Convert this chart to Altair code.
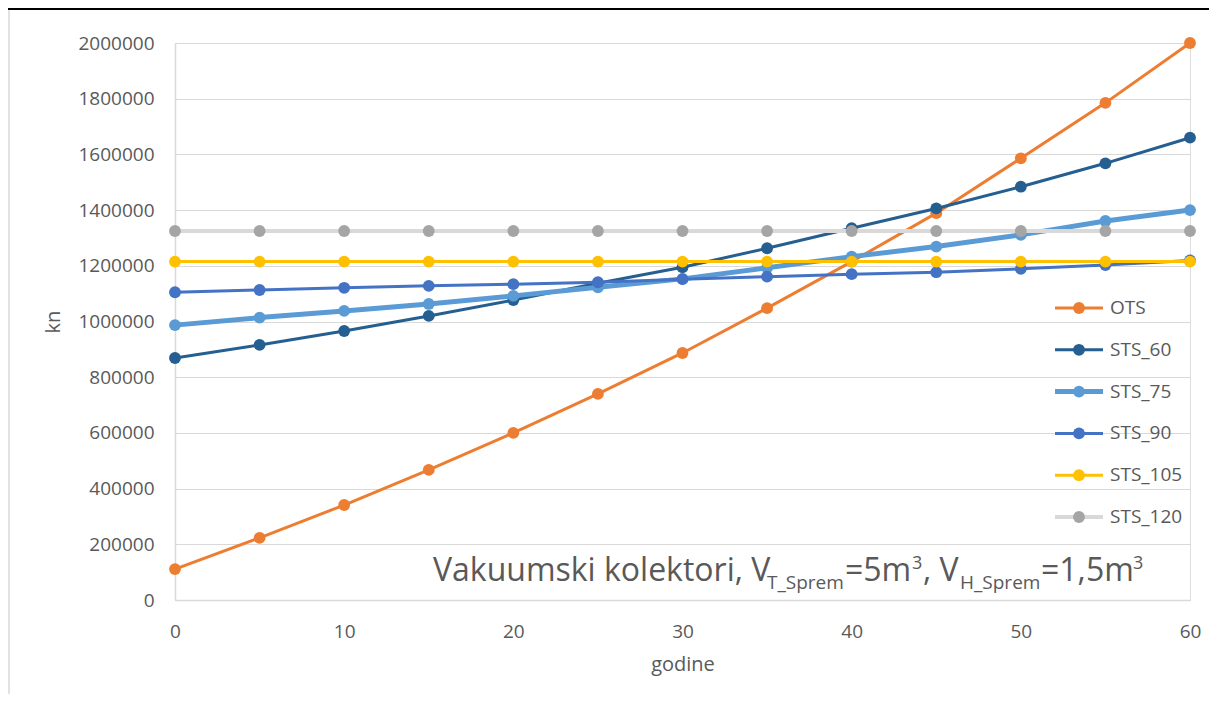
import altair as alt
import pandas as pd

# ---------------- data ----------------
years = [0, 5, 10, 15, 20, 25, 30, 35, 40, 45, 50, 55, 60]
series_names = ["OTS", "STS_60", "STS_75", "STS_90", "STS_105", "STS_120"]

ots     = [111000, 223000, 341000, 467000, 600000, 740000, 887000, 1048000, 1215000, 1389000, 1586000, 1785000, 2000000]
sts_60  = [869000, 916000, 966000, 1020000, 1077000, 1137000, 1195000, 1263000, 1335000, 1406000, 1484000, 1568000, 1660000]
sts_75  = [987000, 1014000, 1038000, 1063000, 1092000, 1123000, 1153000, 1193000, 1233000, 1269000, 1311000, 1361000, 1400000]
sts_90  = [1105000, 1113000, 1121000, 1128000, 1134000, 1141000, 1152000, 1161000, 1170000, 1177000, 1189000, 1203000, 1219000]
sts_105 = [1215000, 1215000, 1215000, 1215000, 1215000, 1215000, 1215000, 1215000, 1215000, 1215000, 1215000, 1215000, 1215000]
sts_120 = [1325000, 1325000, 1325000, 1325000, 1325000, 1325000, 1325000, 1325000, 1325000, 1325000, 1325000, 1325000, 1325000]

values = [ots, sts_60, sts_75, sts_90, sts_105, sts_120]

x_ticks = [0, 10, 20, 30, 40, 50, 60]
y_ticks = [0, 200000, 400000, 600000, 800000, 1000000, 1200000, 1400000, 1600000, 1800000, 2000000]

# ---------------- styles ----------------
line_colors = ["#ED7D31", "#255E91", "#5B9BD5", "#4472C4", "#FFC000", "#D9D9D9"]
marker_colors = ["#ED7D31", "#255E91", "#5B9BD5", "#4472C4", "#FFC000", "#A5A5A5"]
line_widths = [3, 3, 5, 3, 3, 4]
TEXT = "#595959"
GRID = "#D9D9D9"
FONT = "Open Sans"

x_scale = alt.Scale(domain=[0, 60], nice=False, zero=False)
y_scale = alt.Scale(domain=[0, 2000000], nice=False)

x_axis = alt.Axis(values=x_ticks, title="godine", grid=False, ticks=False,
                  labelPadding=22, titlePadding=13, labelFlush=False,
                  domainColor=GRID, domainWidth=1.5,
                  labelFontSize=19, titleFontSize=20, labelColor=TEXT, titleColor=TEXT,
                  labelFont=FONT, titleFont=FONT, titleFontWeight="normal")
y_axis = alt.Axis(values=y_ticks, format="d", title="kn", grid=True, gridColor=GRID,
                  gridWidth=1.2, ticks=False, labelPadding=21, titlePadding=14,
                  labelFlush=False, domainColor=GRID, domainWidth=1.5,
                  labelFontSize=19, titleFontSize=20, labelColor=TEXT, titleColor=TEXT,
                  labelFont=FONT, titleFont=FONT, titleFontWeight="normal")

# ---------------- series layers ----------------
series_layers = []
for i, name in enumerate(series_names):
    df = pd.DataFrame({"year": years, "value": values[i]})
    enc = dict(x=alt.X("year:Q", scale=x_scale, axis=x_axis),
               y=alt.Y("value:Q", scale=y_scale, axis=y_axis))
    line = alt.Chart(df).mark_line(color=line_colors[i], strokeWidth=line_widths[i]).encode(**enc)
    pts = alt.Chart(df).mark_circle(color=marker_colors[i], size=140, opacity=1).encode(**enc)
    series_layers += [line, pts]
main = alt.layer(*series_layers)

# ---------------- legend (manual) ----------------
leg_df = pd.DataFrame({"series": series_names})
leg_scale = alt.Scale(type="point", domain=series_names, range=[265, 474], padding=0)
legend_layers = []
for i, name in enumerate(series_names):
    base = alt.Chart(leg_df).transform_filter(alt.datum.series == name)
    ly = alt.Y("series:N", scale=leg_scale, axis=None)
    legend_layers.append(base.mark_rule(color=line_colors[i], strokeWidth=line_widths[i]).encode(
        x=alt.value(880), x2=alt.value(928), y=ly))
    legend_layers.append(base.mark_circle(color=marker_colors[i], size=140, opacity=1).encode(
        x=alt.value(904), y=ly))
    legend_layers.append(base.mark_text(align="left", baseline="middle", fontSize=19,
                                        font=FONT, color=TEXT).encode(
        x=alt.value(935), y=ly, text="series:N"))
legend = alt.layer(*legend_layers)

# ---------------- annotation ----------------
MAIN_FS = 32
SUB_FS = 19
SUP_FS = 18
pieces = [
    ("Vakuumski kolektori, V", 258, 538, MAIN_FS),
    ("T_Sprem", 592, 546, SUB_FS),
    ("=5m", 670, 538, MAIN_FS),
    ("3", 737, 526, SUP_FS),
    (", V", 748, 538, MAIN_FS),
    ("H_Sprem", 785, 546, SUB_FS),
    ("=1,5m", 866, 538, MAIN_FS),
    ("3", 958, 526, SUP_FS),
]
ann_layers = []
for txt, px, py, fs in pieces:
    ann_layers.append(
        alt.Chart(pd.DataFrame({"t": [txt]})).mark_text(
            align="left", baseline="alphabetic", fontSize=fs, font=FONT, color=TEXT
        ).encode(x=alt.value(px), y=alt.value(py), text="t:N")
    )

# ---------------- page frame ----------------
frame_df = pd.DataFrame({"k": [0]})
top_rule = alt.Chart(frame_df).mark_rule(color="#000000", strokeWidth=2).encode(
    x=alt.value(-167), x2=alt.value(1034), y=alt.value(-34))
left_rule = alt.Chart(frame_df).mark_rule(color="#D9D9D9", strokeWidth=1.5).encode(
    x=alt.value(-166), y=alt.value(-33), y2=alt.value(651))

chart = alt.layer(main, legend, *ann_layers, top_rule, left_rule).resolve_scale(
    y="independent"
).properties(
    width=1015, height=557,
    autosize=alt.AutoSizeParams(type="none"),
    padding={"left": 167, "top": 35, "right": 19, "bottom": 94},
).configure_view(strokeWidth=0).configure(font=FONT, background="white")

chart.save("out.html", embed_options={"renderer": "svg", "actions": False})
